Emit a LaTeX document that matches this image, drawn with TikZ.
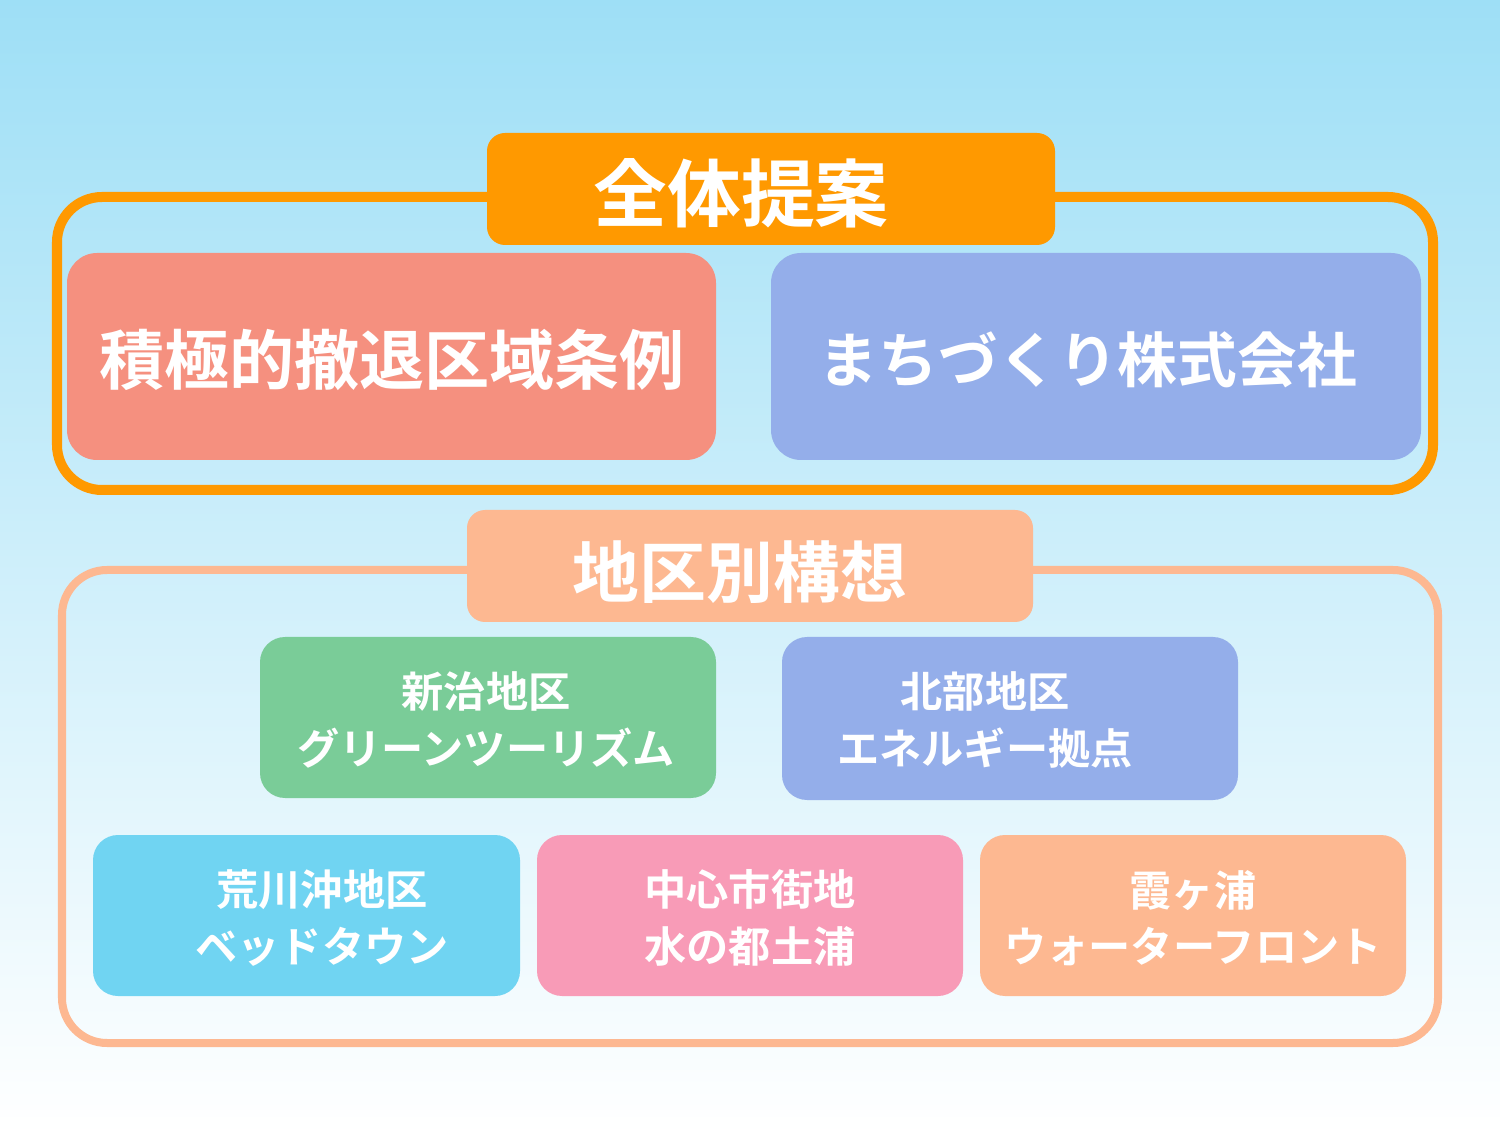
\documentclass[tikz,border=0pt]{standalone}
\usepackage{fontspec}
\setmainfont{Noto Sans CJK JP}[BoldFont={Noto Sans CJK JP Bold}]
\usetikzlibrary{positioning}
\definecolor{bgtop}{HTML}{9EDFF6}
\definecolor{orng}{HTML}{FF9900}
\definecolor{peach}{HTML}{FDB891}
\definecolor{salmon}{HTML}{F5907F}
\definecolor{lblue}{HTML}{94AEEA}
\definecolor{green}{HTML}{7ACC98}
\definecolor{cyanb}{HTML}{70D4F2}
\definecolor{pinkb}{HTML}{F89BB7}

\begin{document}
\begin{tikzpicture}[
      x=0.01cm, y=-0.01cm,
      frame/.style={
          draw,
          rounded corners=0.45cm
        },
      head/.style={
          rounded corners=0.18cm,
          text=white,
          font=\bfseries\fontsize{21}{24}\selectfont
        },
      big/.style={
          rounded corners=0.3cm,
          text=white,
          font=\bfseries\fontsize{18.5}{22}\selectfont
        },
      small/.style={
          rounded corners=0.25cm,
          text=white,
          align=center,
          font=\bfseries\fontsize{12}{16}\selectfont
        }
    ]

    % Background
    \shade[top color=bgtop, bottom color=white] (0,0) rectangle (1500,1134);
    \useasboundingbox (0,0) rectangle (1500,1134);

    % Frames
    \draw[frame, orng, line width=1mm] (57,197) rectangle (1433,490);
    \draw[frame, peach, line width=0.8mm] (62,570) rectangle (1438,1043);

    % Top group
    \fill[head, orng] (487,133) rectangle (1055,245);
    \node[head] (zentai) at (741,193) {全体提案};
    \fill[big, salmon] (67,253) rectangle (716,460);
    \node[big] (jorei) at (392,360) {積極的撤退区域条例};
    \fill[big, lblue] (771,253) rectangle (1421,460);
    \node[big, font=\bfseries\fontsize{17}{20}\selectfont] (kaisha) at (1088,360) {まちづくり株式会社};

    % District group
    \fill[head, peach] (467,510) rectangle (1033,622);
    \node[head, font=\bfseries\fontsize{19}{22}\selectfont] (chiku) at (740,572) {地区別構想};
    \fill[small, green] (260,637) rectangle (716,798);
    \node[small] (niiharu) at (486,720) {新治地区\\グリーンツーリズム};
    \fill[small, lblue] (782,637) rectangle (1238,800);
    \node[small] (hokubu) at (985,720) {北部地区\\エネルギー拠点};
    \fill[small, cyanb] (93,835) rectangle (520,996);
    \node[small] (arakawa) at (322,918) {荒川沖地区\\ベッドタウン};
    \fill[small, pinkb] (537,835) rectangle (963,996);
    \node[small] (chushin) at (750,918) {中心市街地\\水の都土浦};
    \fill[small, peach] (980,835) rectangle (1406,996);
    \node[small] (kasumi) at (1193,918) {霞ヶ浦\\ウォーターフロント};

  \end{tikzpicture}
\end{document}
